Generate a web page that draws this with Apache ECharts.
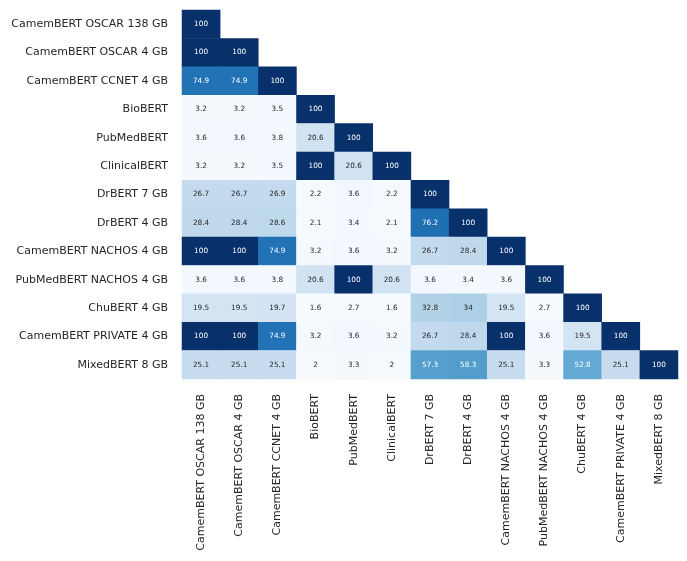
<!DOCTYPE html>
<html>
<head>
<meta charset="utf-8" />
<script src="https://cdn.jsdelivr.net/npm/echarts@6/dist/echarts.min.js"></script>
<style>
  html, body { margin: 0; padding: 0; background: #ffffff; }
  #chart { width: 687px; height: 561px; }
</style>
</head>
<body>
<div id="chart"></div>
<script>
  // model names (rows top->bottom, columns left->right)
  const models = [
    'CamemBERT OSCAR 138 GB', 'CamemBERT OSCAR 4 GB', 'CamemBERT CCNET 4 GB',
    'BioBERT', 'PubMedBERT', 'ClinicalBERT', 'DrBERT 7 GB', 'DrBERT 4 GB',
    'CamemBERT NACHOS 4 GB', 'PubMedBERT NACHOS 4 GB', 'ChuBERT 4 GB',
    'CamemBERT PRIVATE 4 GB', 'MixedBERT 8 GB'
  ];

  // lower triangle, one row per model
  const rows = [
    [100],
    [100, 100],
    [74.9, 74.9, 100],
    [3.2, 3.2, 3.5, 100],
    [3.6, 3.6, 3.8, 20.6, 100],
    [3.2, 3.2, 3.5, 100, 20.6, 100],
    [26.7, 26.7, 26.9, 2.2, 3.6, 2.2, 100],
    [28.4, 28.4, 28.6, 2.1, 3.4, 2.1, 76.2, 100],
    [100, 100, 74.9, 3.2, 3.6, 3.2, 26.7, 28.4, 100],
    [3.6, 3.6, 3.8, 20.6, 100, 20.6, 3.6, 3.4, 3.6, 100],
    [19.5, 19.5, 19.7, 1.6, 2.7, 1.6, 32.8, 34, 19.5, 2.7, 100],
    [100, 100, 74.9, 3.2, 3.6, 3.2, 26.7, 28.4, 100, 3.6, 19.5, 100],
    [25.1, 25.1, 25.1, 2, 3.3, 2, 57.3, 58.3, 25.1, 3.3, 52.8, 25.1, 100]
  ];

  const blues = ['#f7fbff', '#deebf7', '#c6dbef', '#9ecae1', '#6baed6',
                 '#4292c6', '#2171b5', '#08519c', '#08306b'];

  let data = [];
  let vmin = Infinity, vmax = -Infinity;
  rows.forEach((r, i) => r.forEach((v, j) => {
    vmin = Math.min(vmin, v); vmax = Math.max(vmax, v);
    data.push({
      value: [j, i, v],
      label: { color: v > 45 ? '#ffffff' : '#262626' }
    });
  }));

  const chart = echarts.init(document.getElementById('chart'));
  chart.setOption({
    animation: false,
    backgroundColor: '#ffffff',
    textStyle: { fontFamily: 'DejaVu Sans' },
    grid: { left: 182, top: 10, width: 496, height: 369 },
    xAxis: {
      type: 'category',
      data: models,
      axisLine: { show: false },
      axisTick: { show: false },
      splitLine: { show: false },
      axisLabel: { rotate: 90, margin: 15, fontSize: 11, color: '#262626', interval: 0 }
    },
    yAxis: {
      type: 'category',
      data: models,
      inverse: true,
      axisLine: { show: false },
      axisTick: { show: false },
      splitLine: { show: false },
      axisLabel: { margin: 14, fontSize: 11, color: '#262626', interval: 0 }
    },
    visualMap: {
      show: false,
      min: vmin,
      max: vmax,
      dimension: 2,
      inRange: { color: blues }
    },
    series: [{
      type: 'heatmap',
      data: data,
      label: { show: true, fontSize: 7.3, fontFamily: 'DejaVu Sans' },
      itemStyle: { borderWidth: 0 },
      emphasis: { disabled: true }
    }]
  });
</script>
</body>
</html>
